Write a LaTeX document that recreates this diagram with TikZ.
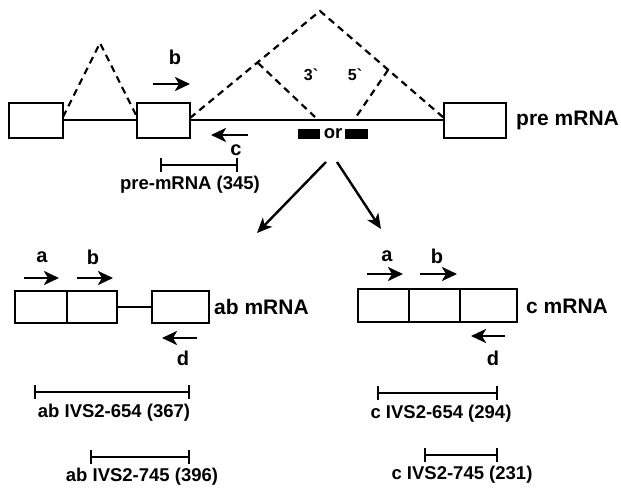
\documentclass[tikz,border=0pt]{standalone}
\usepackage{fontspec}
\setmainfont{Liberation Sans}
\usetikzlibrary{arrows.meta}
\begin{document}
\begin{tikzpicture}[x=1pt,y=-1pt,
  exon/.style={draw,line width=2.3pt,inner sep=0pt},
  intron/.style={line width=2pt},
  splice/.style={dash pattern=on 7pt off 5pt,line width=2.2pt},
  primer/.style={-{Stealth[length=15pt,width=14pt,inset=4pt]},line width=2.8pt},
  flow/.style={-{Stealth[length=15pt,width=13pt,inset=4pt]},line width=2.4pt},
  bar/.style={{Bar[width=14pt]}-{Bar[width=14pt]},line width=2.4pt},
  big/.style={font=\bfseries\fontsize{21}{22}\selectfont,inner sep=0pt},
  lab/.style={font=\bfseries\fontsize{18.5}{20}\selectfont,inner sep=0pt},
  letter/.style={font=\bfseries\fontsize{20}{20}\selectfont,inner sep=0pt},
  prime/.style={font=\bfseries\fontsize{16}{18}\selectfont,inner sep=0pt},
  blk/.style={fill=black,inner sep=0pt,minimum width=22pt,minimum height=10pt}
]
\useasboundingbox[fill=white] (0,0) rectangle (621,489);

% ---------- pre mRNA ----------
\node[exon,minimum width=54pt,minimum height=35pt] (e1) at (36,120.5) {};
\node[exon,minimum width=53pt,minimum height=35pt] (e2) at (163.5,120.5) {};
\node[exon,minimum width=62pt,minimum height=35pt] (e3) at (475,120.5) {};
\draw[intron] (e1.east) -- (e2.west);
\draw[intron] (e2.east) -- (e3.west);
\node[big,anchor=west] (pre) at (516,120) {pre mRNA};

% splicing paths
\coordinate (s1a) at (63,117);
\coordinate (s1t) at (100,43);
\coordinate (s1b) at (137,117);
\draw[splice] (s1a) -- (s1t) -- (s1b);
\coordinate (s2a) at (190,118);
\coordinate (s2t) at (320,11);
\coordinate (s2b) at (444,118);
\draw[splice] (s2a) -- (s2t) -- (s2b);
\coordinate (i3a) at (258,63);
\coordinate (i3b) at (315,117);
\coordinate (i5a) at (388,70);
\coordinate (i5b) at (356,117);
\draw[splice] (i3a) -- (i3b);
\draw[splice] (i5a) -- (i5b);
\node[prime] (p3) at (311,75) {3\textasciigrave};
\node[prime] (p5) at (355,75) {5\textasciigrave};

% alternative exons
\node[blk] (x1) at (309,134.5) {};
\node[blk,minimum width=23pt] (x2) at (356.5,134.5) {};
\node[lab] (or) at (333,134) {or};

% primers on pre mRNA
\coordinate (pb1) at (153,84);
\coordinate (pb2) at (190,84);
\draw[primer] (pb1) -- (pb2);
\node[letter] (lb) at (175,57) {b};
\coordinate (pc1) at (248,135);
\coordinate (pc2) at (211,135);
\draw[primer] (pc1) -- (pc2);
\node[letter] (lc) at (236,150) {c};

\coordinate (r1) at (160,165);
\coordinate (r2) at (238,165);
\draw[bar] (r1) -- (r2);
\node[lab] (rl) at (190,185) {pre-mRNA (345)};

% flow arrows
\coordinate (f1s) at (326,162);
\coordinate (f1e) at (257,233);
\coordinate (f2s) at (337,162);
\coordinate (f2e) at (381,229);
\draw[flow] (f1s) -- (f1e);
\draw[flow] (f2s) -- (f2e);

% ---------- ab mRNA ----------
\node[exon,minimum width=52pt,minimum height=32pt] (ab1) at (41,307) {};
\node[exon,minimum width=50pt,minimum height=32pt] (ab2) at (92,307) {};
\node[exon,minimum width=57pt,minimum height=32pt] (ab3) at (180.5,307) {};
\draw[intron] (ab2.east) -- (ab3.west);
\node[big,anchor=west] (abl) at (214,307) {ab mRNA};

\coordinate (aa1) at (24,278);
\coordinate (aa2) at (59,278);
\draw[primer] (aa1) -- (aa2);
\node[letter] (la1) at (42,257) {a};
\coordinate (ab1s) at (77,278);
\coordinate (ab1e) at (113,278);
\draw[primer] (ab1s) -- (ab1e);
\node[letter] (lb1) at (93,257) {b};
\coordinate (ad1) at (197,338);
\coordinate (ad2) at (162,338);
\draw[primer] (ad1) -- (ad2);
\node[letter] (ld1) at (183,358) {d};

\coordinate (q1) at (34,392);
\coordinate (q2) at (190,392);
\draw[bar] (q1) -- (q2);
\node[lab] (ql) at (114,413) {ab IVS2-654 (367)};
\coordinate (q3) at (90,457);
\coordinate (q4) at (190,457);
\draw[bar] (q3) -- (q4);
\node[lab] (ql2) at (142,477) {ab IVS2-745 (396)};

% ---------- c mRNA ----------
\node[exon,minimum width=51pt,minimum height=33pt] (c1) at (383.5,305.5) {};
\node[exon,minimum width=51pt,minimum height=33pt] (c2) at (434.5,305.5) {};
\node[exon,minimum width=57pt,minimum height=33pt] (c3) at (488.5,305.5) {};
\node[big,anchor=west] (cl) at (526,306) {c mRNA};

\coordinate (ca1) at (367,274);
\coordinate (ca2) at (403,274);
\draw[primer] (ca1) -- (ca2);
\node[letter] (la2) at (387,256) {a};
\coordinate (cb1) at (420,274);
\coordinate (cb2) at (457,274);
\draw[primer] (cb1) -- (cb2);
\node[letter] (lb2) at (437,256) {b};
\coordinate (cd1) at (505,336);
\coordinate (cd2) at (471,336);
\draw[primer] (cd1) -- (cd2);
\node[letter] (ld2) at (493,358) {d};

\coordinate (w1) at (377,393);
\coordinate (w2) at (498,393);
\draw[bar] (w1) -- (w2);
\node[lab] (wl) at (441,414) {c IVS2-654 (294)};
\coordinate (w3) at (424,455);
\coordinate (w4) at (498,455);
\draw[bar] (w3) -- (w4);
\node[lab] (wl2) at (462,475) {c IVS2-745 (231)};
\end{tikzpicture}
\end{document}
